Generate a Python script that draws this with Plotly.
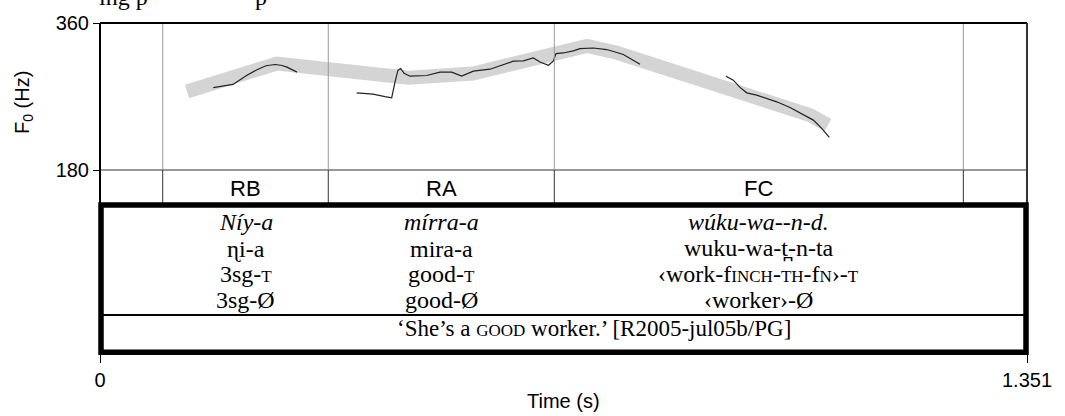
import plotly.graph_objects as go

# ---------------- data ----------------
# stylised pitch contour (grey band): time (s), F0 (Hz)
band_t = [0.1268, 0.2580, 0.4489, 0.5436, 0.7098, 0.7535, 1.0348, 1.0610]
band_f0 = [276.2, 310.4, 293.0, 298.2, 331.8, 323.6, 247.2, 235.0]

# measured F0 traces
seg1_t = [0.1651, 0.1938, 0.2142, 0.2288, 0.2419, 0.2550, 0.2638, 0.2725, 0.2871]
seg1_f0 = [280.8, 284.8, 296.1, 302.8, 307.7, 309.2, 308.3, 305.9, 299.8]

seg2_t = [0.3741, 0.3979, 0.4154, 0.4251, 0.4299, 0.4343, 0.4382, 0.4431, 0.4518,
          0.4761, 0.4955, 0.5126, 0.5271, 0.5441, 0.5684, 0.5927, 0.6023, 0.6169,
          0.6315, 0.6413, 0.6534, 0.6606, 0.6646, 0.6752, 0.6898, 0.6996, 0.7189,
          0.7385, 0.7627, 0.7870]
seg2_f0 = [274.5, 272.9, 269.8, 268.3, 287.5, 302.2, 304.3, 298.5, 294.9,
           295.7, 299.8, 299.8, 294.9, 301.0, 303.4, 310.4, 313.2, 313.6,
           317.2, 312.3, 308.3, 313.2, 322.6, 323.3, 325.8, 328.7, 329.4,
           327.5, 321.4, 309.5]

seg3_t = [0.9123, 0.9230, 0.9327, 0.9425, 0.9571, 0.9862, 1.0056, 1.0250, 1.0396,
          1.0518, 1.0629]
seg3_f0 = [294.9, 290.0, 281.1, 274.5, 271.6, 263.5, 256.6, 247.2, 241.1, 231.0, 220.0]

# tier boundaries (s) and labels
tier_bounds = [0.0914, 0.3327, 0.6621, 1.2582]
tier_labels = ["RB", "RA", "FC"]

x_max = 1.351
x_ticks = [0, 1.351]
x_ticktext = ["0", "1.351"]
y_ticks = [180, 360]


def sc(s):
    return '<span style="font-size:17px">' + s + '</span>'


gloss_rows = [
    ["<i>Níy-a</i>", "<i>mírra-a</i>", "<i>wúku-wa--n-d.</i>"],
    ["ɳi-a", "mira-a", "wuku-wa-t\u032a-n-ta"],
    ["3sg-" + sc("T"), "good-" + sc("T"),
     "‹work-f" + sc("INCH") + "-" + sc("TH") + "-f" + sc("N") + "›-" + sc("T")],
    ["3sg-Ø", "good-Ø", "‹worker›-Ø"],
]
translation = "‘She’s a " + sc("GOOD") + " worker.’ [R2005-jul05b/PG]"
top_fragments = ["ing p", "p"]

# ---------------- layout geometry ----------------
W, H = 1065, 416
ML, MR, MT, MB = 100, 38, 23, 64
MID_PX = 170                     # pixel row of the 180 Hz line
HZ_PER_PX = 180.0 / (MID_PX - MT)
Y_MIN = 180 - (H - MB - MID_PX) * HZ_PER_PX
PLOT_H = H - MT - MB
PLOT_W = W - ML - MR


def ydat(p):   # pixel row -> data value
    return 360 - (p - MT) * HZ_PER_PX


def ypap(p):   # pixel row -> paper fraction
    return (H - MB - p) / PLOT_H


def xpap(p):   # pixel column -> paper fraction
    return (p - ML) / PLOT_W


BOX_TOP = 205
SEP_PX = 315
SERIF = "Liberation Serif, DejaVu Serif, serif"
SANS = "Liberation Sans, Arial, sans-serif"

fig = go.Figure()
fig.add_trace(go.Scatter(x=band_t, y=band_f0, mode="lines",
                         line=dict(color="#d4d4d4", width=14), hoverinfo="skip"))
for tx, fy in [(seg1_t, seg1_f0), (seg2_t, seg2_f0), (seg3_t, seg3_f0)]:
    fig.add_trace(go.Scatter(x=tx, y=fy, mode="lines",
                             line=dict(color="#222222", width=1.2), hoverinfo="skip"))

shapes = []
# 180 Hz line
shapes.append(dict(type="line", xref="x", yref="y", x0=0, x1=x_max, y0=180, y1=180,
                   line=dict(color="#333333", width=1)))
# tier boundaries
for b in tier_bounds:
    shapes.append(dict(type="line", xref="x", yref="y", x0=b, x1=b, y0=180, y1=360,
                       line=dict(color="#9a9a9a", width=1)))
    shapes.append(dict(type="line", xref="x", yref="y", x0=b, x1=b, y0=ydat(BOX_TOP), y1=180,
                       line=dict(color="#333333", width=1)))
# outer frame of pitch panel
shapes.append(dict(type="line", xref="paper", yref="paper", x0=0, x1=1, y0=1, y1=1,
                   line=dict(color="black", width=2)))
shapes.append(dict(type="line", xref="paper", yref="paper", x0=0, x1=0, y0=ypap(BOX_TOP), y1=1,
                   line=dict(color="black", width=2)))
shapes.append(dict(type="line", xref="paper", yref="paper", x0=1, x1=1, y0=ypap(BOX_TOP), y1=1,
                   line=dict(color="#333333", width=2)))
# translation separator
shapes.append(dict(type="line", xref="paper", yref="paper", x0=0, x1=1,
                   y0=ypap(SEP_PX), y1=ypap(SEP_PX), line=dict(color="black", width=2)))
# thick gloss box
shapes.append(dict(type="rect", xref="paper", yref="paper", x0=xpap(101), x1=xpap(1026),
                   y0=ypap(352.3), y1=ypap(BOX_TOP), line=dict(color="black", width=5.5)))

ann = []
# tier labels
for i, lab in enumerate(tier_labels):
    cx = (tier_bounds[i] + tier_bounds[i + 1]) / 2
    ann.append(dict(x=cx, y=ydat(188.5), xref="x", yref="y", text=lab, showarrow=False,
                    font=dict(family=SANS, size=22, color="black"),
                    xanchor="center", yanchor="middle"))
# gloss rows
row_centres = [222.0, 248.7, 273.7, 300.3]
for r, row in enumerate(gloss_rows):
    for i, txt in enumerate(row):
        cx = (tier_bounds[i] + tier_bounds[i + 1]) / 2
        ann.append(dict(x=cx, y=ydat(row_centres[r]), xref="x", yref="y", text=txt,
                        showarrow=False,
                        font=dict(family=SERIF, size=24, color="black"),
                        xanchor="center", yanchor="middle"))
ann.append(dict(x=xpap(594), y=ypap(328.0), xref="paper", yref="paper", text=translation,
                showarrow=False,
                font=dict(family=SERIF, size=23, color="black"),
                xanchor="center", yanchor="middle"))
# cropped caption fragments at the very top
for frag, px in zip(top_fragments, [97, 253]):
    ann.append(dict(x=xpap(px), y=ypap(-3), xref="paper", yref="paper", text=frag,
                    showarrow=False, font=dict(family=SERIF, size=24, color="black"),
                    xanchor="left", yanchor="middle"))
# axis titles
ann.append(dict(x=xpap(563.5), y=ypap(401), xref="paper", yref="paper", text="Time (s)",
                showarrow=False, font=dict(family=SANS, size=20, color="black"),
                xanchor="center", yanchor="middle"))
ann.append(dict(x=xpap(23), y=ypap(103), xref="paper", yref="paper",
                text="F<sub>0</sub> (Hz)", textangle=-90,
                showarrow=False, font=dict(family=SANS, size=20, color="black"),
                xanchor="center", yanchor="middle"))

fig.update_layout(
    width=W, height=H,
    margin=dict(l=ML, r=MR, t=MT, b=MB, pad=0),
    paper_bgcolor="white", plot_bgcolor="white",
    showlegend=False, hovermode=False,
    shapes=shapes, annotations=ann,
    font=dict(family=SANS, size=20, color="black"),
    xaxis=dict(range=[0, x_max], tickvals=x_ticks, ticktext=x_ticktext,
               ticks="outside", ticklen=10, tickwidth=1, tickcolor="black",
               showgrid=False, zeroline=False, showline=False, fixedrange=True),
    yaxis=dict(range=[Y_MIN, 360], tickvals=y_ticks, ticks="outside", ticklen=6,
               tickwidth=1, tickcolor="black",
               showgrid=False, zeroline=False, showline=False, fixedrange=True),
)

fig.write_html("out.html", config={"displayModeBar": False},
               post_script="document.body.style.margin='0px';document.body.style.overflow='hidden';")
